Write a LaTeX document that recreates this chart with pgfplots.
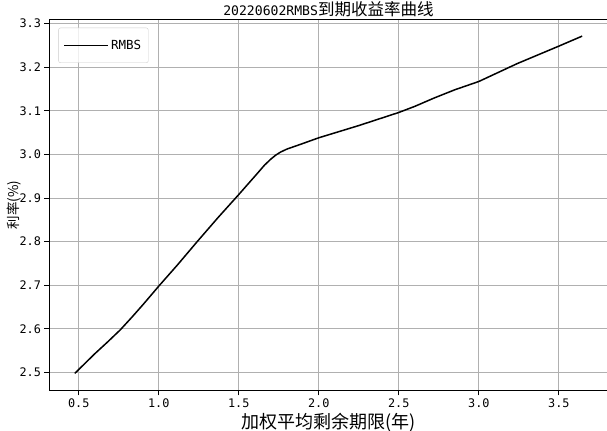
\documentclass[border=0pt]{standalone}
\usepackage{fontspec}
\setmainfont{Noto Sans CJK SC}
\newfontfamily\mono{DejaVu Sans Mono}
\usepackage{pgfplots}
\pgfplotsset{compat=1.18}
\begin{document}
\begin{tikzpicture}
\begin{axis}[
  scale only axis, width=557.7pt, height=370.7pt,
  xmin=0.316, xmax=3.805, ymin=2.459, ymax=3.3095,
  xtick={0.5,1.0,1.5,2.0,2.5,3.0,3.5},
  ytick={2.5,2.6,2.7,2.8,2.9,3.0,3.1,3.2,3.3},
  /pgf/number format/assume math mode=true,
  xticklabel style={/pgf/number format/.cd, fixed, fixed zerofill, precision=1},
  yticklabel style={/pgf/number format/.cd, fixed, fixed zerofill, precision=1},
  tick label style={font=\mono\fontsize{11.8}{13}\selectfont},
  grid=major, major grid style={color=black!31, line width=0.8pt},
  axis line style={line width=0.9pt},
  tick align=outside, tick pos=left, major tick length=4.9pt,
  tick style={black, line width=0.9pt},
  title={{\mono\fontsize{13.1}{15}\selectfont 20220602RMBS}{\fontsize{16.5}{18}\selectfont 到期收益率曲线}},
  title style={at={(axis description cs:0.5,1)}, anchor=base, yshift=-2.2pt},
  xlabel={\fontsize{18}{20}\selectfont 加权平均剩余期限(年)},
  xlabel style={at={(axis description cs:0.5,0)}, anchor=base, yshift=-38pt},
  ylabel={\fontsize{13.5}{15}\selectfont 利率(\%)},
  ylabel style={at={(axis description cs:0,0.5)}, anchor=center, yshift=35pt},
  legend style={at={(axis description cs:0,1)}, anchor=north west, xshift=9pt, yshift=-8.4pt,
    draw=black!20, rounded corners=2pt, fill=white, fill opacity=0.8, text opacity=1,
    inner xsep=5pt, inner ysep=10pt,
    font=\mono\fontsize{12.5}{14}\selectfont},
  legend cell align=left,
  legend image code/.code={\draw[#1, line width=1.5pt] (0pt,0pt) -- (33pt,0pt); \path (0pt,0pt) -- (44pt,0pt);},
]
\addplot[black, line width=1.5pt, line join=round] table {
x y
0.475 2.498
0.60 2.543
0.68 2.570
0.76 2.598
0.83 2.626
0.90 2.655
1.00 2.698
1.12 2.748
1.24 2.800
1.37 2.855
1.50 2.908
1.62 2.958
1.66 2.975
1.70 2.989
1.73 2.998
1.76 3.005
1.80 3.012
1.886 3.023
2.00 3.038
2.25 3.066
2.50 3.096
2.60 3.110
2.72 3.129
2.85 3.148
3.00 3.167
3.24 3.208
3.50 3.248
3.646 3.271
};
\addlegendentry{RMBS}
\end{axis}
\pgfresetboundingbox
\path[use as bounding box] ([shift={(-49.3pt,-40pt)}]current axis.south west) rectangle ([shift={(-0.6pt,19.3pt)}]current axis.north east);
\end{tikzpicture}
\end{document}
